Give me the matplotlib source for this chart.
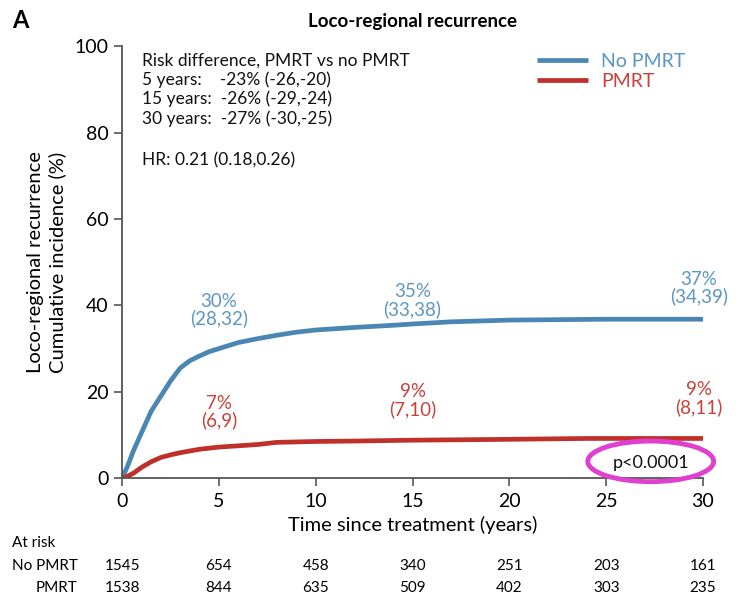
import matplotlib
matplotlib.use('Agg')
import matplotlib.pyplot as plt
import matplotlib.patches as mpatches
import matplotlib.transforms as mtransforms

plt.rcParams['font.family'] = ['Lato', 'DejaVu Sans']

BLUE = '#4a86b4'
BLUE_TXT = '#5b97c4'
RED = '#c0302a'
RED_TXT = '#c8413a'

# cumulative incidence (%)
t_no = [0, 0.3, 0.6, 1.0, 1.5, 2.0, 2.5, 3.0, 3.5, 4.0, 4.5, 5.0, 6.0, 7.0, 8.0, 9.0,
        10.0, 12.0, 14.0, 15.0, 17.0, 20.0, 25.0, 30.0]
ci_no = [0, 3.0, 6.5, 10.5, 15.5, 19.0, 22.5, 25.5, 27.2, 28.3, 29.3, 30.0, 31.4, 32.3,
         33.1, 33.8, 34.3, 34.9, 35.4, 35.7, 36.2, 36.6, 36.8, 36.8]
t_pm = [0, 0.3, 0.6, 1.0, 1.5, 2.0, 2.5, 3.0, 4.0, 5.0, 6.0, 7.0, 8.0, 10.0, 12.0, 15.0,
        20.0, 24.0, 30.0]
ci_pm = [0, 0.5, 1.2, 2.5, 3.8, 4.8, 5.4, 5.9, 6.7, 7.2, 7.5, 7.8, 8.3, 8.5, 8.6, 8.8,
         9.0, 9.2, 9.2]

# estimates at 5, 15, 30 years
est_x = [5, 15, 29.8]
est_no = ['30%\n(28,32)', '35%\n(33,38)', '37%\n(34,39)']
est_no_y = [38.9, 41.2, 44.0]
est_pm = ['7%\n(6,9)', '9%\n(7,10)', '9%\n(8,11)']
est_pm_y = [15.3, 18.0, 18.5]

risk_times = [0, 5, 10, 15, 20, 25, 30]
risk_no = [1545, 654, 458, 340, 251, 203, 161]
risk_pm = [1538, 844, 635, 509, 402, 303, 235]

summary = ("Risk difference, PMRT vs no PMRT\n"
           "5 years:    -23% (-26,-20)\n"
           "15 years:  -26% (-29,-24)\n"
           "30 years:  -27% (-30,-25)")

fig = plt.figure(figsize=(7.4, 6), dpi=100)
fig.patch.set_facecolor('white')
ax = fig.add_axes([0.165, 0.203, 0.785, 0.72])

ax.plot(t_no, ci_no, color=BLUE, lw=3.4, label='No PMRT', solid_capstyle='butt')
ax.plot(t_pm, ci_pm, color=RED, lw=3.4, label='PMRT', solid_capstyle='butt')

for x, s, y in zip(est_x, est_no, est_no_y):
    ax.text(x, y, s, ha='center', va='center', fontsize=13.5, color=BLUE_TXT, linespacing=1.0)
for x, s, y in zip(est_x, est_pm, est_pm_y):
    ax.text(x, y, s, ha='center', va='center', fontsize=13.5, color=RED_TXT, linespacing=1.0)

ax.text(0.035, 0.985, summary, transform=ax.transAxes, ha='left', va='top',
        fontsize=12.5, color='#111111', linespacing=1.2)
ax.text(0.035, 0.755, "HR: 0.21 (0.18,0.26)", transform=ax.transAxes, ha='left', va='top',
        fontsize=12.5, color='#111111')

ax.text(27.3, 3.6, 'p<0.0001', ha='center', va='center', fontsize=13, color='#111111')
ax.add_patch(mpatches.Ellipse((27.3, 3.9), 6.5, 9.4, fill=False, edgecolor='#e040cf',
                              lw=3.5, zorder=5, clip_on=False))

leg = ax.legend(loc='upper right', bbox_to_anchor=(1.0, 1.025), frameon=False, fontsize=14,
                handlelength=2.6, labelspacing=0.15, handletextpad=0.7)
for txt, c in zip(leg.get_texts(), [BLUE_TXT, RED_TXT]):
    txt.set_color(c)

ax.set_xlim(0, 30)
ax.set_ylim(0, 100)
ax.set_xticks(risk_times)
ax.set_yticks(range(0, 101, 20))
ax.tick_params(labelsize=14, direction='out', length=6, color='#555555', width=1.2)
ax.tick_params(axis='x', pad=5)
for s in ['top', 'right']:
    ax.spines[s].set_visible(False)
for s in ['left', 'bottom']:
    ax.spines[s].set_color('#555555')
    ax.spines[s].set_linewidth(1.3)

ax.set_xlabel('Time since treatment (years)', fontsize=14.5, labelpad=4)
ax.set_ylabel('Loco-regional recurrence\nCumulative incidence (%)', fontsize=14.5, labelpad=6,
              linespacing=1.3)
ax.set_title('Loco-regional recurrence', fontsize=13.5, fontweight='bold', pad=14)
fig.text(0.016, 0.965, 'A', fontsize=17, fontweight='bold', ha='left', va='center')

# at risk table
trans = mtransforms.blended_transform_factory(ax.transData, fig.transFigure)
fig.text(0.016, 0.095, 'At risk', fontsize=11, ha='left', va='center')
fig.text(0.105, 0.057, 'No PMRT', fontsize=11, ha='right', va='center')
fig.text(0.105, 0.020, 'PMRT', fontsize=11, ha='right', va='center')
for x, a, b in zip(risk_times, risk_no, risk_pm):
    ax.text(x, 0.057, str(a), transform=trans, fontsize=11, ha='center', va='center')
    ax.text(x, 0.020, str(b), transform=trans, fontsize=11, ha='center', va='center')

fig.savefig('out.png', dpi=100, facecolor='white')
